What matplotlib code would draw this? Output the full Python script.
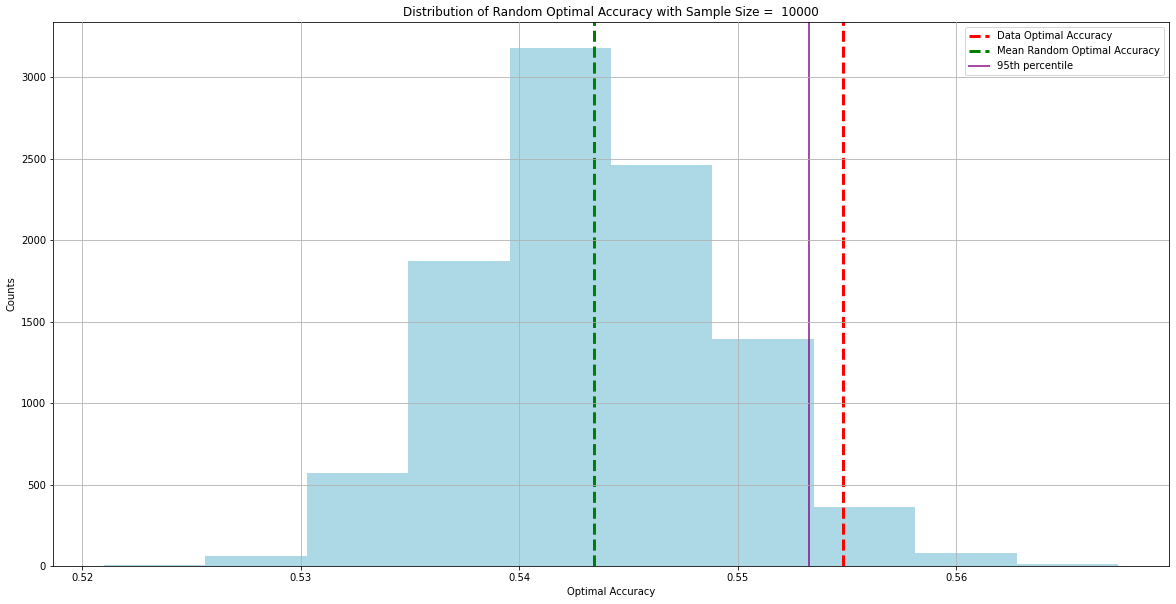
import numpy as np
import matplotlib
matplotlib.use("Agg")
import matplotlib.pyplot as plt

# histogram: 10 bins
bin_edges = np.linspace(0.520993, 0.567425, 11)
counts = [5, 61, 573, 1871, 3179, 2460, 1394, 361, 81, 15]

data_acc = 0.554812
mean_random_acc = 0.543422
pct95 = 0.553289
sample_size = 10000

fig = plt.figure(figsize=(1176 / 72, 604 / 72), dpi=72)
ax = fig.add_axes([53 / 1176, 1 - 566 / 604, (1169 - 53) / 1176, (566 - 22) / 604])

centers = (bin_edges[:-1] + bin_edges[1:]) / 2
ax.hist(centers, bins=bin_edges, weights=counts, color='lightblue')

ax.axvline(data_acc, color='red', linestyle='--', linewidth=3, label='Data Optimal Accuracy')
ax.axvline(mean_random_acc, color='green', linestyle='--', linewidth=3, label='Mean Random Optimal Accuracy')
ax.axvline(pct95, color='purple', alpha=0.7, linewidth=2, label='95th percentile')

ax.grid(True, color='#b0b0b0')
ax.set_axisbelow(False)
ax.set_xticks([0.52, 0.53, 0.54, 0.55, 0.56])
ax.set_xticklabels(['0.52', '0.53', '0.54', '0.55', '0.56'])
ax.set_xlabel('Optimal Accuracy')
ax.set_ylabel('Counts')
ax.set_title('Distribution of Random Optimal Accuracy with Sample Size =  ' + str(sample_size))
ax.legend(loc='upper right')

fig.savefig("out.png", dpi=72)
